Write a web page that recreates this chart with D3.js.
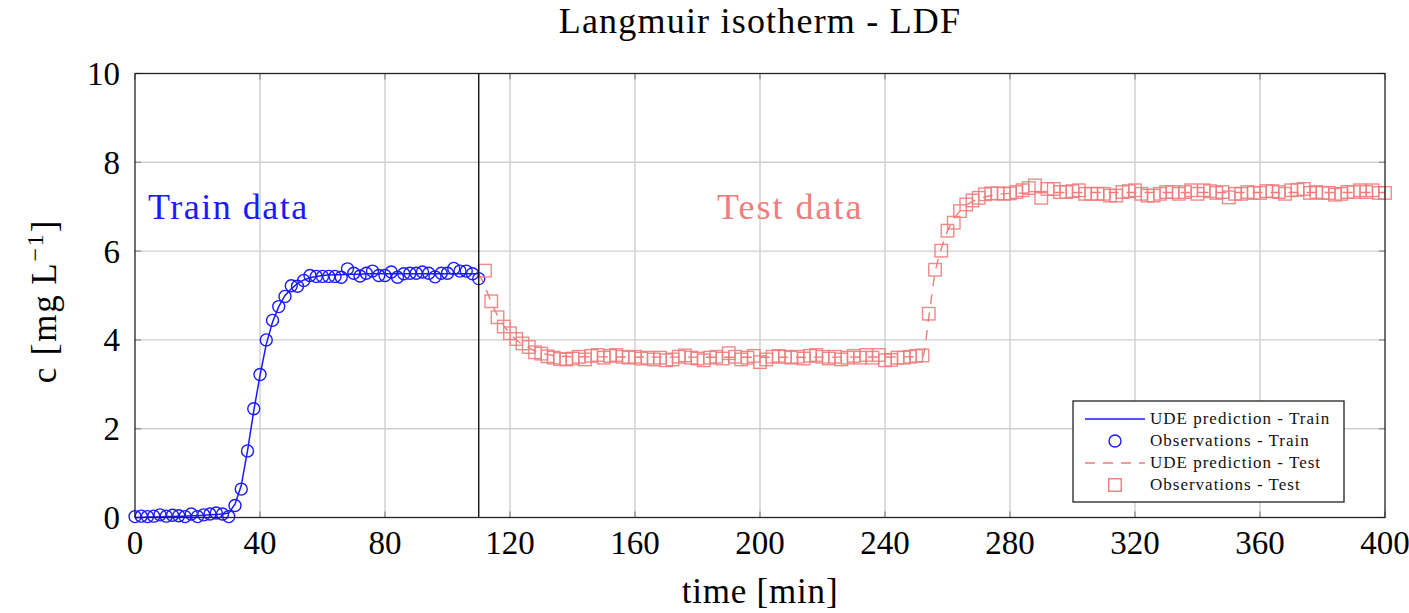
<!DOCTYPE html>
<html lang="en">
<head>
    <meta charset="utf-8">
    <style>
        body { margin: 0; background: #fff; }
        text { font-family: "Liberation Serif", "Times New Roman", serif; }
    </style>
    <script src="https://d3js.org/d3.v7.min.js"></script>
</head>
<body>
<script type="text/javascript">

    // ---- data ----
    var trainTimes = d3.range(0, 111, 2);
    var trainObs = [0.02, 0.03, 0.02, 0.03, 0.06, 0.03, 0.05, 0.04, 0.02, 0.08,
        0.02, 0.06, 0.08, 0.10, 0.08, 0.02, 0.27, 0.64, 1.50, 2.45,
        3.22, 4.00, 4.44, 4.75, 4.98, 5.22, 5.21, 5.34, 5.45, 5.43,
        5.43, 5.43, 5.43, 5.41, 5.60, 5.50, 5.44, 5.50, 5.55, 5.45,
        5.45, 5.53, 5.41, 5.49, 5.50, 5.50, 5.53, 5.50, 5.42, 5.50,
        5.50, 5.61, 5.55, 5.55, 5.49, 5.38];
    var trainPred = [0.00, 0.00, 0.01, 0.01, 0.01, 0.02, 0.02, 0.03, 0.03, 0.04,
        0.04, 0.05, 0.06, 0.07, 0.08, 0.10, 0.30, 0.72, 1.50, 2.40,
        3.20, 3.90, 4.40, 4.75, 5.00, 5.15, 5.27, 5.35, 5.40, 5.43,
        5.45, 5.46, 5.47, 5.47, 5.48, 5.48, 5.48, 5.49, 5.49, 5.49,
        5.49, 5.49, 5.49, 5.49, 5.49, 5.49, 5.49, 5.49, 5.49, 5.49,
        5.49, 5.49, 5.49, 5.49, 5.49, 5.49];

    var testTimes = d3.range(112, 401, 2);
    var testObs = [5.56, 4.87, 4.51, 4.30, 4.15, 4.02, 3.92, 3.84, 3.72, 3.69,
        3.63, 3.60, 3.57, 3.56, 3.58, 3.62, 3.56, 3.64, 3.66, 3.60,
        3.64, 3.66, 3.62, 3.60, 3.62, 3.58, 3.60, 3.56, 3.60, 3.54,
        3.56, 3.62, 3.65, 3.60, 3.58, 3.54, 3.60, 3.62, 3.58, 3.70,
        3.62, 3.56, 3.60, 3.64, 3.50, 3.56, 3.62, 3.64, 3.62, 3.60,
        3.62, 3.58, 3.64, 3.66, 3.62, 3.58, 3.62, 3.56, 3.60, 3.64,
        3.60, 3.66, 3.60, 3.66, 3.54, 3.55, 3.60, 3.60, 3.62, 3.64,
        3.65, 4.59, 5.58, 6.01, 6.46, 6.64, 6.90, 7.05, 7.14, 7.20,
        7.28, 7.30, 7.30, 7.29, 7.30, 7.33, 7.37, 7.42, 7.48, 7.20,
        7.40, 7.40, 7.33, 7.33, 7.35, 7.37, 7.29, 7.29, 7.29, 7.29,
        7.25, 7.25, 7.33, 7.35, 7.37, 7.29, 7.25, 7.25, 7.29, 7.33,
        7.33, 7.29, 7.33, 7.37, 7.29, 7.37, 7.35, 7.31, 7.33, 7.21,
        7.29, 7.29, 7.33, 7.31, 7.31, 7.35, 7.35, 7.33, 7.29, 7.37,
        7.38, 7.40, 7.31, 7.33, 7.31, 7.31, 7.27, 7.29, 7.33, 7.33,
        7.37, 7.33, 7.37, 7.31, 7.31];
    var testPredTimes = [110, 112, 114, 116, 118, 120, 122, 124, 126, 128, 130, 134, 140,
        200, 252, 254, 256, 258, 260, 262, 264, 266, 268, 270, 274, 280, 300, 400];
    var testPred = [5.49, 5.20, 4.85, 4.55, 4.32, 4.15, 4.00, 3.90, 3.82, 3.75, 3.70, 3.65, 3.62,
        3.61, 3.62, 4.50, 5.50, 6.05, 6.45, 6.72, 6.90, 7.03, 7.12, 7.18, 7.25, 7.30, 7.32, 7.32];

    var xTicks = d3.range(0, 401, 40);
    var yTicks = d3.range(0, 11, 2);
    var splitTime = 110;

    var legendItems = ["UDE prediction - Train", "Observations - Train",
        "UDE prediction - Test", "Observations - Test"];

    // ---- layout ----
    var W = 1409, H = 613;
    var margin = {top: 73.5, right: 24, bottom: 95.5, left: 135},
        width = W - margin.left - margin.right,
        height = H - margin.top - margin.bottom;

    var blue = "#1a1aff", red = "#f07c7c";

    var svg = d3.select("body").append("svg")
        .attr("width", W)
        .attr("height", H);

    var g = svg.append("g").attr("transform", "translate(" + margin.left + "," + margin.top + ")");

    var x = d3.scaleLinear().domain([0, 400]).range([0, width]);
    var y = d3.scaleLinear().domain([0, 10]).range([height, 0]);

    // grid
    g.append("g").selectAll("line").data(xTicks.slice(1, -1)).enter().append("line")
        .attr("x1", d => x(d)).attr("x2", d => x(d))
        .attr("y1", 0).attr("y2", height)
        .attr("stroke", "#cfcfcf").attr("stroke-width", 1.4);
    g.append("g").selectAll("line").data(yTicks.slice(1, -1)).enter().append("line")
        .attr("y1", d => y(d)).attr("y2", d => y(d))
        .attr("x1", 0).attr("x2", width)
        .attr("stroke", "#cfcfcf").attr("stroke-width", 1.4);

    // inner ticks on all sides
    var tk = 6;
    var ticks = g.append("g").attr("stroke", "#888").attr("stroke-width", 1.2);
    xTicks.forEach(function(t) {
        ticks.append("line").attr("x1", x(t)).attr("x2", x(t)).attr("y1", height).attr("y2", height - tk);
        ticks.append("line").attr("x1", x(t)).attr("x2", x(t)).attr("y1", 0).attr("y2", tk);
    });
    yTicks.forEach(function(t) {
        ticks.append("line").attr("y1", y(t)).attr("y2", y(t)).attr("x1", 0).attr("x2", tk);
        ticks.append("line").attr("y1", y(t)).attr("y2", y(t)).attr("x1", width).attr("x2", width - tk);
    });

    // lines
    var line = d3.line().x(d => x(d[0])).y(d => y(d[1]));

    g.append("path")
        .datum(d3.zip(trainTimes, trainPred))
        .attr("d", line)
        .attr("fill", "none")
        .attr("stroke", blue)
        .attr("stroke-width", 1.5);

    g.append("path")
        .datum(d3.zip(testPredTimes, testPred))
        .attr("d", line.curve(d3.curveMonotoneX))
        .attr("fill", "none")
        .attr("stroke", red)
        .attr("stroke-width", 1.4)
        .attr("stroke-dasharray", "10,8");

    // markers
    g.append("g").selectAll("circle")
        .data(d3.zip(trainTimes, trainObs))
        .enter().append("circle")
        .attr("cx", d => x(d[0]))
        .attr("cy", d => y(d[1]))
        .attr("r", 6)
        .attr("fill", "none")
        .attr("stroke", blue)
        .attr("stroke-width", 1.4);

    var sq = 12.5;
    g.append("g").selectAll("rect")
        .data(d3.zip(testTimes, testObs))
        .enter().append("rect")
        .attr("x", d => x(d[0]) - sq / 2)
        .attr("y", d => y(d[1]) - sq / 2)
        .attr("width", sq)
        .attr("height", sq)
        .attr("fill", "none")
        .attr("stroke", red)
        .attr("stroke-opacity", 0.9)
        .attr("stroke-width", 1.4);

    // split line and frame
    g.append("line")
        .attr("x1", x(splitTime)).attr("x2", x(splitTime))
        .attr("y1", 0).attr("y2", height)
        .attr("stroke", "#000").attr("stroke-width", 1.3);

    g.append("rect")
        .attr("width", width).attr("height", height)
        .attr("fill", "none").attr("stroke", "#222").attr("stroke-width", 1.3);

    // tick labels
    g.append("g").selectAll("text").data(xTicks).enter().append("text")
        .attr("x", d => x(d)).attr("y", height + 36)
        .attr("text-anchor", "middle")
        .style("font-size", "33px")
        .text(d => d);
    g.append("g").selectAll("text").data(yTicks).enter().append("text")
        .attr("x", -15).attr("y", d => y(d) + 11.5)
        .attr("text-anchor", "end")
        .style("font-size", "33px")
        .text(d => d);

    // axis labels
    svg.append("text")
        .attr("x", margin.left + width / 2).attr("y", 603)
        .attr("text-anchor", "middle")
        .style("font-size", "35px")
        .style("letter-spacing", "0.8px")
        .text("time [min]");

    var yl = svg.append("text")
        .attr("transform", "translate(56," + 301 + ") rotate(-90)")
        .attr("text-anchor", "middle")
        .style("font-size", "35px")
        .style("letter-spacing", "1.8px");
    yl.append("tspan").text("c [mg\u2009L");
    yl.append("tspan").attr("dy", -13).style("font-size", "24px").text("\u22121");
    yl.append("tspan").attr("dy", 13).text("]");

    // title
    svg.append("text")
        .attr("x", margin.left + width / 2).attr("y", 33)
        .attr("text-anchor", "middle")
        .style("font-size", "36px")
        .style("letter-spacing", "1.2px")
        .text("Langmuir isotherm - LDF");

    // annotations
    g.append("text")
        .attr("x", 13).attr("y", 219 - margin.top)
        .attr("fill", blue)
        .style("font-size", "36px")
        .style("letter-spacing", "1.5px")
        .text("Train data");
    g.append("text")
        .attr("x", 717 - margin.left).attr("y", 219 - margin.top)
        .attr("fill", red)
        .style("font-size", "36px")
        .style("letter-spacing", "2px")
        .text("Test data");

    // legend
    var lg = svg.append("g").attr("transform", "translate(1073,401)");
    lg.append("rect")
        .attr("width", 271).attr("height", 101)
        .attr("fill", "#fff").attr("stroke", "#222").attr("stroke-width", 1.3);

    var rows = lg.selectAll("g.row").data(legendItems).enter().append("g")
        .attr("class", "row")
        .attr("transform", (d, i) => "translate(0," + (18 + i * 22) + ")");

    rows.append("text")
        .attr("x", 77).attr("y", 5)
        .style("font-size", "17px")
        .style("letter-spacing", "1px")
        .attr("fill", "#111")
        .text(d => d);

    rows.each(function(d, i) {
        var r = d3.select(this);
        if (i === 0) {
            r.append("line").attr("x1", 12).attr("x2", 72).attr("y1", 0).attr("y2", 0)
                .attr("stroke", blue).attr("stroke-width", 1.5);
        } else if (i === 1) {
            r.append("circle").attr("cx", 42).attr("cy", 0).attr("r", 6)
                .attr("fill", "none").attr("stroke", blue).attr("stroke-width", 1.4);
        } else if (i === 2) {
            r.append("line").attr("x1", 12).attr("x2", 72).attr("y1", 0).attr("y2", 0)
                .attr("stroke", red).attr("stroke-width", 1.4).attr("stroke-dasharray", "10,8");
        } else {
            r.append("rect").attr("x", 42 - sq / 2).attr("y", -sq / 2).attr("width", sq).attr("height", sq)
                .attr("fill", "none").attr("stroke", red).attr("stroke-width", 1.4);
        }
    });

</script>
</body>
</html>
